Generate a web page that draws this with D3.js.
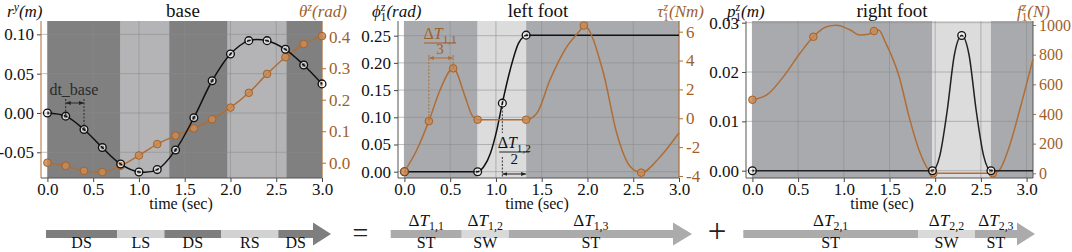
<!DOCTYPE html>
<html><head><meta charset="utf-8">
<script src="https://cdn.jsdelivr.net/npm/d3@7"></script>
<style>body{margin:0;background:#fff} svg{display:block}</style>
</head><body><svg id="c" width="1072" height="252"></svg>
<script>
// ---------------- data ----------------
const timeTicks = [0,0.5,1.0,1.5,2.0,2.5,3.0];

// base panel (nodes every 0.2 s)
const baseT     = [0,0.2,0.4,0.6,0.8,1.0,1.2,1.4,1.6,1.8,2.0,2.2,2.4,2.6,2.8,3.0];
const baseRy    = [0.000,-0.004,-0.021,-0.044,-0.065,-0.075,-0.072,-0.047,-0.006,0.041,0.075,0.092,0.092,0.081,0.061,0.037];
const baseTheta = [0.000,-0.010,-0.026,-0.030,-0.010,0.023,0.059,0.086,0.109,0.138,0.175,0.222,0.282,0.335,0.377,0.402];
const basePhaseBounds = [0,0.8,1.33,1.97,2.61,3.0];
const basePhaseNames  = ["DS","LS","DS","RS","DS"];
const baseLeftTicks  = [-0.05,0.00,0.05,0.10];
const baseRightTicks = [0.0,0.1,0.2,0.3,0.4];

// left foot
const lfPhaseBounds = [0,0.8,1.33,3.0];
const lfPhaseNames  = ["ST","SW","ST"];
const lfPhiT   = [0,0.8,0.87,0.94,1.01,1.07,1.155,1.246,1.30,1.33,3.0];
const lfPhiV   = [0,0,0.010,0.034,0.077,0.126,0.187,0.236,0.248,0.251,0.251];
const lfPhiNodeT = [0,0.8,1.07,1.33];
const lfPhiNodeV = [0,0,0.126,0.251];
const lfTauT   = [0,0.135,0.267,0.39,0.533,0.663,0.736,0.80,1.33,1.447,1.59,1.775,1.92,1.96,2.175,2.32,2.467,2.587,2.795,3.0];
const lfTauV   = [-3.7,-2.2,-0.2,1.96,3.46,1.5,0.23,-0.1,-0.1,0.35,2.65,4.96,6.1,6.42,3.12,-1.04,-3.35,-3.77,-2.66,-1.0];
const lfTauNodeT = [0,0.267,0.533,0.8,1.33,1.96,2.587];
const lfTauNodeV = [-3.7,-0.2,3.46,-0.1,-0.1,6.42,-3.77];
const lfLeftTicks  = [0.00,0.05,0.10,0.15,0.20,0.25];
const lfRightTicks = [-4,-2,0,2,4,6];

// right foot
const rfPhaseBounds = [0,1.97,2.61,3.07];
const rfPhaseNames  = ["ST","SW","ST"];
const rfPT = [0,1.97,2.05,2.13,2.21,2.29,2.37,2.45,2.53,2.61,3.07];
const rfPV = [0,0,0.003,0.012,0.0235,0.0274,0.0235,0.012,0.003,0,0];
const rfPNodeT = [0,1.97,2.29,2.61];
const rfPNodeV = [0,0,0.0274,0];
const rfFT = [0,0.157,0.34,0.52,0.667,0.81,0.92,1.07,1.18,1.27,1.33,1.38,1.461,1.606,1.714,1.823,1.93,1.98,2.63,2.70,2.80,2.93,3.07];
const rfFV = [496,528,652,809,921,988,998,966,932,937,959,966,876,651,382,157,22,0,0,20,160,440,770];
const rfFNodeT = [0,0.667,1.33,1.98,2.63];
const rfFNodeV = [496,921,959,0,0];
const rfLeftTicks  = [0.00,0.01,0.02,0.03];
const rfRightTicks = [0,200,400,600,800,1000];

// bottom timeline bars
const barNamesTop1 = ["1,1","1,2","1,3"];
const barNamesTop2 = ["2,1","2,2","2,3"];

// ---------------- drawing ----------------
const FF = '"Liberation Serif"';
const svg = d3.select("#c");
const TOP = 21, BOT = 178;
const ORANGE = "#b06d35", ORANGE_T = "#9e5f2c", BLACK = "#111";

function ff(sel){ return sel.attr("font-family","Liberation Serif").style("font-family",FF); }
function txt(g,x,y,s,size,anchor,color){
  return ff(g.append("text")).attr("x",x).attr("y",y).attr("text-anchor",anchor||"middle")
    .attr("font-size",size).attr("fill",color||"#111").text(s);
}

const defs = svg.append("defs");
function mk(id,color){
  defs.append("marker").attr("id",id).attr("viewBox","0 0 10 10").attr("refX",10).attr("refY",5)
    .attr("markerWidth",5).attr("markerHeight",5).attr("markerUnits","userSpaceOnUse")
    .attr("orient","auto-start-reverse").append("path").attr("d","M0,1L10,5L0,9Z").attr("fill",color);
}
mk("arB","#222"); mk("arO",ORANGE);

function mathText(g,x,y,anchor,color,size,parts){
  const t = ff(g.append("text")).attr("x",x).attr("y",y).attr("text-anchor",anchor)
    .attr("fill",color).attr("font-size",size);
  parts.forEach(p=>{
    const s = ff(t.append("tspan")).text(p.t);
    if(p.i) s.attr("font-style","italic");
    if(p.s) s.attr("font-size",size*p.s);
    if(p.dy) s.attr("dy",p.dy);
    if(p.dx) s.attr("dx",p.dx);
  });
  return t;
}

function panel(cfg){
  const g = svg.append("g");
  const x = d3.scaleLinear().domain(cfg.xDomain).range([cfg.left,cfg.right]);
  const yL = d3.scaleLinear().domain(cfg.yL).range([BOT,TOP]);
  const yR = d3.scaleLinear().domain(cfg.yR).range([BOT,TOP]);
  g.append("rect").attr("x",cfg.left).attr("y",TOP).attr("width",cfg.right-cfg.left).attr("height",BOT-TOP).attr("fill","#fff");
  const b = cfg.bounds;
  g.selectAll("rect.ph").data(cfg.names).join("rect").attr("class","ph")
    .attr("x",(d,i)=>x(b[i])).attr("width",(d,i)=>x(b[i+1])-x(b[i]))
    .attr("y",TOP).attr("height",BOT-TOP)
    .attr("fill",d=> (d==="DS"||d==="ST") ? cfg.dark : cfg.light);
  // grid
  g.selectAll("line.gx").data(timeTicks).join("line").attr("x1",d=>x(d)).attr("x2",d=>x(d))
    .attr("y1",TOP).attr("y2",BOT).attr("stroke","#8a8a8a").attr("stroke-opacity",0.55);
  g.selectAll("line.gy").data(cfg.lTicks).join("line").attr("y1",d=>yL(d)).attr("y2",d=>yL(d))
    .attr("x1",cfg.left).attr("x2",cfg.right).attr("stroke","#8a8a8a").attr("stroke-opacity",0.55);
  // axes
  const ax = g.append("g").attr("transform",`translate(0,${BOT})`)
    .call(d3.axisBottom(x).tickValues(timeTicks).tickFormat(d=>d.toFixed(1)).tickSize(4).tickPadding(1));
  const al = g.append("g").attr("transform",`translate(${cfg.left},0)`)
    .call(d3.axisLeft(yL).tickValues(cfg.lTicks).tickFormat(cfg.lFmt).tickSize(4).tickPadding(3));
  const ar = g.append("g").attr("transform",`translate(${cfg.right},0)`)
    .call(d3.axisRight(yR).tickValues(cfg.rTicks).tickFormat(cfg.rFmt).tickSize(cfg.rTickSize||4).tickPadding(cfg.rPad||3));
  [ax,al,ar].forEach(a=>{a.select(".domain").remove(); ff(a).attr("font-size",17);
    ff(a.selectAll("text")).attr("font-size",17);});
  if(cfg.rFont) ar.selectAll("text").attr("font-size",cfg.rFont);
  ax.selectAll("line").attr("stroke","#444"); al.selectAll("line").attr("stroke","#444");
  al.selectAll("text").attr("fill","#111"); ax.selectAll("text").attr("fill","#111");
  ar.selectAll("line").attr("stroke",ORANGE); ar.selectAll("text").attr("fill",ORANGE_T);
  // spines
  g.append("line").attr("x1",cfg.left).attr("x2",cfg.right).attr("y1",BOT).attr("y2",BOT).attr("stroke","#555");
  g.append("line").attr("x1",cfg.left).attr("x2",cfg.left).attr("y1",TOP).attr("y2",BOT).attr("stroke",cfg.lSpine);
  g.append("line").attr("x1",cfg.right).attr("x2",cfg.right).attr("y1",TOP).attr("y2",BOT).attr("stroke",cfg.rSpine);
  // title & labels
  txt(g,cfg.titleX,17,cfg.title,19);
  txt(g,cfg.xLabelX,209,"time (sec)",16);
  mathText(g,cfg.lLabX,17,"start","#111",17,cfg.lLab);
  mathText(g,cfg.rLabX,17,"end",ORANGE_T,17,cfg.rLab);
  return {g,x,yL,yR};
}

function drawSeries(p, xs, ys, scale, color, curve){
  const line = d3.line().x((d,i)=>p.x(xs[i])).y(d=>scale(d)).curve(curve);
  p.g.append("path").attr("d",line(ys)).attr("fill","none").attr("stroke",color).attr("stroke-width",1.5);
}
function blackNodes(p, xs, ys, scale){
  const gg = p.g.append("g");
  gg.selectAll("circle.w").data(ys).join("circle").attr("cx",(d,i)=>p.x(xs[i])).attr("cy",d=>scale(d))
    .attr("r",2.6).attr("fill","none").attr("stroke","#fff").attr("stroke-opacity",0.75).attr("stroke-width",1.1);
  gg.selectAll("circle.b").data(ys).join("circle").attr("cx",(d,i)=>p.x(xs[i])).attr("cy",d=>scale(d))
    .attr("r",3.9).attr("fill","none").attr("stroke","#111").attr("stroke-width",1.3);
}
function orangeNodes(p, xs, ys, scale){
  p.g.append("g").selectAll("circle").data(ys).join("circle").attr("cx",(d,i)=>p.x(xs[i])).attr("cy",d=>scale(d))
    .attr("r",3.8).attr("fill","#c98b55").attr("fill-opacity",0.85).attr("stroke","#a4632c").attr("stroke-width",1);
}

const f2 = d=>d.toFixed(2), f1 = d=>d.toFixed(1), fi = d=>String(d);

// ---- panel 1: base
const p1 = panel({xDomain:[-0.07,3.0],left:41,right:322,yL:[-0.0827,0.117],yR:[-0.0486,0.45],
  bounds:basePhaseBounds,names:basePhaseNames,dark:"#808081",light:"#b4b4b6",
  lTicks:baseLeftTicks,rTicks:baseRightTicks,lFmt:f2,rFmt:f1,lSpine:ORANGE,rSpine:ORANGE,
  title:"base",titleX:183,xLabelX:181,lLabX:7,rLabX:347,
  lLab:[{t:"r",i:1},{t:"y",i:1,s:.7,dy:-6},{t:"(m)",i:1,dy:6}],
  rLab:[{t:"θ",i:1},{t:"z",i:1,s:.7,dy:-6},{t:"(rad)",i:1,dy:6}]});
drawSeries(p1,baseT,baseTheta,p1.yR,ORANGE,d3.curveCatmullRom);
orangeNodes(p1,baseT,baseTheta,p1.yR);
drawSeries(p1,baseT,baseRy,p1.yL,BLACK,d3.curveCatmullRom);
blackNodes(p1,baseT,baseRy,p1.yL);
// dt_base annotation
{
  const g=p1.g, xa=p1.x(baseT[1]), xb=p1.x(baseT[2]), ya=103;
  txt(g,(xa+xb)/2-1,95,"dt_base",16,"middle","#2a2a2a");
  g.append("line").attr("x1",xa).attr("x2",xb).attr("y1",ya).attr("y2",ya).attr("stroke","#2a2a2a").attr("stroke-width",1)
    .attr("marker-start","url(#arB)").attr("marker-end","url(#arB)");
  g.append("line").attr("x1",xa).attr("x2",xa).attr("y1",ya-4).attr("y2",p1.yL(baseRy[1])).attr("stroke","#2a2a2a").attr("stroke-dasharray","2,1.5");
  g.append("line").attr("x1",xb).attr("x2",xb).attr("y1",ya-4).attr("y2",p1.yL(baseRy[2])).attr("stroke","#2a2a2a").attr("stroke-dasharray","2,1.5");
}

// ---- panel 2: left foot
const p2 = panel({xDomain:[-0.07,3.0],left:398,right:679,yL:[-0.0116,0.277],yR:[-4.14,6.74],
  bounds:lfPhaseBounds,names:lfPhaseNames,dark:"#a9aaad",light:"#dcdcdd",
  lTicks:lfLeftTicks,rTicks:lfRightTicks,lFmt:f2,rFmt:fi,lSpine:"#555",rSpine:ORANGE,
  title:"left foot",titleX:538,xLabelX:537,lLabX:372,rLabX:704,
  lLab:[{t:"ϕ",i:1},{t:"z",i:1,s:.7,dy:-6},{t:"1",s:.7,dy:10,dx:-5},{t:"(rad)",i:1,dy:-4}],
  rLab:[{t:"τ",i:1},{t:"z",i:1,s:.7,dy:-6},{t:"1",s:.7,dy:10,dx:-5},{t:"(Nm)",i:1,dy:-4}]});
drawSeries(p2,lfPhiT,lfPhiV,p2.yL,BLACK,d3.curveMonotoneX);
blackNodes(p2,lfPhiNodeT,lfPhiNodeV,p2.yL);
drawSeries(p2,lfTauT,lfTauV,p2.yR,ORANGE,d3.curveMonotoneX);
orangeNodes(p2,lfTauNodeT,lfTauNodeV,p2.yR);
{
  const g=p2.g;
  // ΔT11/3 (orange)
  const xa=p2.x(lfTauNodeT[1]), xb=p2.x(lfTauNodeT[2]), ya=58, xm=(xa+xb)/2-1;
  g.append("line").attr("x1",xa).attr("x2",xb).attr("y1",ya).attr("y2",ya).attr("stroke",ORANGE)
    .attr("marker-start","url(#arO)").attr("marker-end","url(#arO)");
  g.append("line").attr("x1",xa).attr("x2",xa).attr("y1",ya-3).attr("y2",p2.yR(lfTauNodeV[1])).attr("stroke",ORANGE).attr("stroke-dasharray","2,1.5");
  g.append("line").attr("x1",xb).attr("x2",xb).attr("y1",ya-3).attr("y2",p2.yR(lfTauNodeV[2])).attr("stroke",ORANGE).attr("stroke-dasharray","2,1.5");
  mathText(g,xm,39,"middle",ORANGE_T,16,[{t:"Δ"},{t:"T",i:1},{t:"1,1",s:.7,dy:4}]);
  g.append("line").attr("x1",xm-16).attr("x2",xm+16).attr("y1",43).attr("y2",43).attr("stroke",ORANGE_T);
  txt(g,xm,54,"3",15,"middle",ORANGE_T);
  // ΔT12/2 (black)
  const xc=p2.x(lfPhiNodeT[2]), xd=p2.x(lfPhiNodeT[3]), yc=174, xn=(xc+xd)/2;
  g.append("line").attr("x1",xc).attr("x2",xd).attr("y1",yc).attr("y2",yc).attr("stroke","#222")
    .attr("marker-start","url(#arB)").attr("marker-end","url(#arB)");
  g.append("line").attr("x1",xc).attr("x2",xc).attr("y1",p2.yL(lfPhiNodeV[2])+4).attr("y2",133).attr("stroke","#333").attr("stroke-dasharray","2,1.5");
  g.append("line").attr("x1",xc).attr("x2",xc).attr("y1",157).attr("y2",177).attr("stroke","#333").attr("stroke-dasharray","2,1.5");
  mathText(g,xn,148,"middle","#111",16,[{t:"Δ"},{t:"T",i:1},{t:"1,2",s:.7,dy:4}]);
  g.append("line").attr("x1",xn-15).attr("x2",xn+15).attr("y1",152).attr("y2",152).attr("stroke","#222");
  txt(g,xn,164,"2",15);
}

// ---- panel 3: right foot
const p3 = panel({xDomain:[-0.07,3.07],left:746,right:1033,yL:[-0.00148,0.03034],yR:[-31.7,1027],
  bounds:rfPhaseBounds,names:rfPhaseNames,dark:"#a9aaad",light:"#dcdcdd",
  lTicks:rfLeftTicks,rTicks:rfRightTicks,lFmt:f2,rFmt:fi,lSpine:"#555",rSpine:"#555",
  rTickSize:3,rPad:3,rFont:16,
  title:"right foot",titleX:892,xLabelX:882,lLabX:727,rLabX:1050,
  lLab:[{t:"p",i:1},{t:"z",i:1,s:.7,dy:-6},{t:"1",s:.7,dy:10,dx:-5},{t:"(m)",i:1,dy:-4}],
  rLab:[{t:"f",i:1},{t:"z",i:1,s:.7,dy:-6},{t:"1",s:.7,dy:10,dx:-5},{t:"(N)",i:1,dy:-4}]});
drawSeries(p3,rfFT,rfFV,p3.yR,ORANGE,d3.curveMonotoneX);
orangeNodes(p3,rfFNodeT,rfFNodeV,p3.yR);
drawSeries(p3,rfPT,rfPV,p3.yL,"#222",d3.curveMonotoneX);
blackNodes(p3,rfPNodeT,rfPNodeV,p3.yL);

// ---- bottom timeline bars
const BY=230, BH=8;
function bar(cfg){
  const s = d3.scaleLinear().domain([0,3]).range(cfg.range);
  const b = cfg.bounds;
  const ends = b.slice(1).map((v,i)=> i===cfg.names.length-1 ? s.invert(cfg.shaftEnd) : v);
  const g = svg.append("g");
  g.selectAll("rect").data(cfg.names).join("rect")
    .attr("x",(d,i)=>s(b[i])).attr("width",(d,i)=>s(ends[i])-s(b[i])).attr("y",BY).attr("height",BH)
    .attr("fill",d=>cfg.colors[d]);
  const xe=cfg.shaftEnd;
  g.append("path").attr("d",`M${xe},${BY+BH/2-11.5}L${xe+cfg.head},${BY+BH/2}L${xe},${BY+BH/2+11.5}Z`).attr("fill",cfg.colors[cfg.names[cfg.names.length-1]]);
  cfg.names.forEach((d,i)=> txt(g,(s(b[i])+s(ends[i]))/2,248,d,16));
  if(cfg.top){
    cfg.top.forEach((sub,i)=>{
      mathText(g,(s(b[i])+s(ends[i]))/2,226,"middle","#111",17,[{t:"Δ"},{t:"T",i:1},{t:sub,s:.7,dy:4}]);
    });
  }
}
bar({range:[46,313],bounds:basePhaseBounds,names:basePhaseNames,shaftEnd:313,head:18,
  colors:{DS:"#7e7e7e",LS:"#d2d2d2",RS:"#d2d2d2"}});
bar({range:[390.7,657],bounds:lfPhaseBounds,names:lfPhaseNames,shaftEnd:673,head:19,
  colors:{ST:"#ababab",SW:"#d9d9d9"},top:barNamesTop1});
bar({range:[743.3,1009.5],bounds:rfPhaseBounds,names:rfPhaseNames,shaftEnd:1017,head:18,
  colors:{ST:"#ababab",SW:"#d9d9d9"},top:barNamesTop2});
txt(svg,360.5,242,"=",28,"middle","#222");
txt(svg,717,242,"+",33,"middle","#222");
</script></body></html>
